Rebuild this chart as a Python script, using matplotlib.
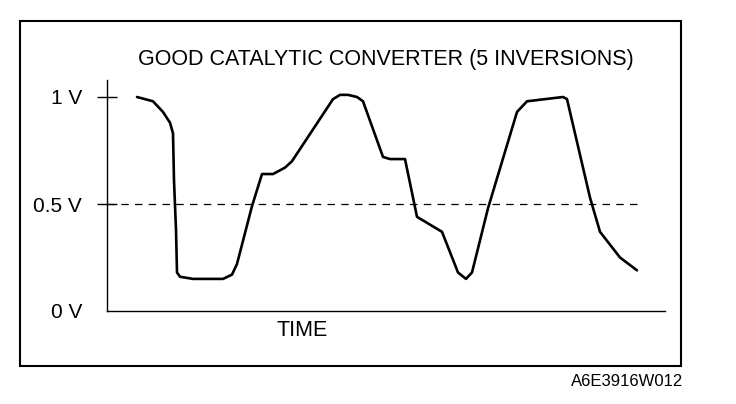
import matplotlib
matplotlib.use("Agg")
import matplotlib.pyplot as plt
from matplotlib.patches import Rectangle

plt.rcParams['font.family'] = ['Liberation Sans', 'DejaVu Sans']

# time (arbitrary units) and sensor voltage (V)
time = [30, 46, 56, 63, 66, 67, 69, 70, 73, 86, 116, 125, 130, 145, 155, 166,
        178, 185, 226, 233, 241, 250, 256, 276, 283, 298, 310, 335, 351,
        359, 365, 381, 410, 420, 456, 460, 483, 493, 513, 530]
voltage = [1.00, 0.98, 0.93, 0.88, 0.83, 0.61, 0.38, 0.18, 0.16, 0.15, 0.15, 0.17,
           0.22, 0.49, 0.64, 0.64, 0.67, 0.70, 0.99, 1.01, 1.01, 1.00, 0.98, 0.72,
           0.71, 0.71, 0.44, 0.37, 0.18, 0.15, 0.18, 0.48, 0.93, 0.98, 1.00, 0.99,
           0.53, 0.37, 0.25, 0.19]
ytick_vals = [0, 0.5, 1]
ytick_labels = ['0 V', '0.5 V', '1 V']
title = 'GOOD CATALYTIC CONVERTER (5 INVERSIONS)'

W, H = 736, 404
fig = plt.figure(figsize=(W / 100, H / 100), dpi=100)

# outer frame
fig.patches.append(Rectangle((20 / W, 1 - 366 / H), (681 - 20) / W, (366 - 21) / H,
                             transform=fig.transFigure, fill=False, lw=1.5,
                             edgecolor='black'))

ax = fig.add_axes([107 / W, 1 - 311 / H, (665 - 107) / W, (311 - 80) / H])
ax.plot(time, voltage, color='black', lw=1.9, solid_joinstyle='round',
        solid_capstyle='round')
ax.axhline(0.5, xmin=0, xmax=(642 - 107) / (665 - 107), color='black', lw=0.9,
           dashes=(6, 5))
ax.set_xlim(0, 558)
ax.set_ylim(0, 231 / 214)
ax.spines['top'].set_visible(False)
ax.spines['right'].set_visible(False)
for s in ['left', 'bottom']:
    ax.spines[s].set_linewidth(1.0)
ax.set_xticks([])
ax.set_yticks(ytick_vals)
ax.set_yticklabels(ytick_labels, fontsize=15)
ax.tick_params(axis='y', direction='inout', length=14, width=1.0, pad=11)
ax.yaxis.get_major_ticks()[0].tick1line.set_visible(False)
ax.patch.set_alpha(0)

fig.text(386 / W, 1 - 60 / H, title, ha='center', va='center', fontsize=15.5)
fig.text(302 / W, 1 - 330 / H, 'TIME', ha='center', va='center', fontsize=15.5)
fig.text(683 / W, 1 - 381 / H, 'A6E3916W012', ha='right', va='center', fontsize=12)

fig.savefig('out.png', dpi=100)
